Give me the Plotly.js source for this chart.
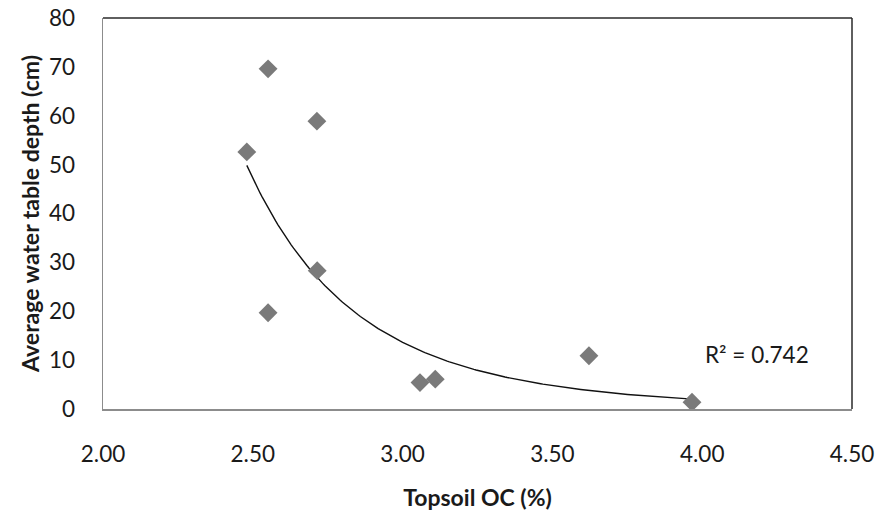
<!DOCTYPE html>
<html>
<head>
<meta charset="utf-8">
<script src="https://cdn.plot.ly/plotly-3.0.1.min.js"></script>
<style>html,body{margin:0;padding:0;background:#fff;}#chart{width:879px;height:522px;}</style>
</head>
<body>
<div id="chart"></div>
<script>
// Data
const topsoilOC = [2.48, 2.551, 2.714, 2.551, 2.715, 3.058, 3.109, 3.622, 3.966];
const waterTableDepth = [52.6, 69.6, 58.9, 19.7, 28.3, 5.4, 6.1, 10.9, 1.4];
const xTickVals = [2.0, 2.5, 3.0, 3.5, 4.0, 4.5];
const xTickText = ["2.00", "2.50", "3.00", "3.50", "4.00", "4.50"];
const yTickVals = [0, 10, 20, 30, 40, 50, 60, 70, 80];
const r2Label = "R² = 0.742";

// Power trendline (least squares in log-log space, as a spreadsheet would)
const lx = topsoilOC.map(Math.log), ly = waterTableDepth.map(Math.log);
const n = lx.length;
const mx = lx.reduce((a, b) => a + b, 0) / n, my = ly.reduce((a, b) => a + b, 0) / n;
let sxy = 0, sxx = 0;
for (let i = 0; i < n; i++) { sxy += (lx[i] - mx) * (ly[i] - my); sxx += (lx[i] - mx) ** 2; }
const b = sxy / sxx, lnA = my - b * mx;
const xMin = Math.min(...topsoilOC), xMax = Math.max(...topsoilOC);
const trendX = [], trendY = [];
for (let i = 0; i <= 200; i++) {
  const x = xMin + (xMax - xMin) * i / 200;
  trendX.push(x);
  trendY.push(Math.exp(lnA + b * Math.log(x)));
}

const font = "Lato, 'Open Sans', sans-serif";
const tickSize = 22.5;
const traces = [
  {x: trendX, y: trendY, mode: "lines", type: "scatter",
   line: {color: "#111111", width: 1.4}, hoverinfo: "skip", showlegend: false},
  {x: topsoilOC, y: waterTableDepth, mode: "markers", type: "scatter",
   marker: {symbol: "diamond", size: 14.5, color: "#7a7a7a"}, showlegend: false}
];

const layout = {
  width: 879, height: 522,
  margin: {l: 103, r: 27, t: 18, b: 113},
  paper_bgcolor: "#ffffff", plot_bgcolor: "#ffffff",
  font: {family: font, color: "#1a1a1a", size: tickSize},
  showlegend: false,
  xaxis: {
    range: [2.0, 4.5], tickvals: xTickVals, ticktext: xTickText,
    showgrid: false, zeroline: false, showline: true, linecolor: "#8c8c8c", linewidth: 1.5,
    ticks: "", ticklabelstandoff: 24,
    tickfont: {family: font, size: tickSize, color: "#1a1a1a"},
    title: {text: "<b>Topsoil OC (%)</b>", font: {family: font, size: 23, color: "#1a1a1a"}, standoff: 24}
  },
  yaxis: {
    range: [0, 80], tickvals: yTickVals,
    showgrid: false, zeroline: false, showline: true, linecolor: "#8c8c8c", linewidth: 1.5,
    ticks: "", ticklabelstandoff: 22,
    tickfont: {family: font, size: tickSize, color: "#1a1a1a"},
    title: {text: "<b>Average water table depth (cm)</b>", font: {family: font, size: 23, color: "#1a1a1a"}, standoff: 3}
  },
  shapes: [
    {type: "line", xref: "paper", yref: "paper", x0: 0, x1: 1, y0: 1, y1: 1, line: {color: "#2a2a2a", width: 1.5}},
    {type: "line", xref: "paper", yref: "paper", x0: 1, x1: 1, y0: 0, y1: 1, line: {color: "#2a2a2a", width: 1.5}}
  ],
  annotations: [
    {xref: "x", yref: "y", x: 4.183, y: 11.05, text: r2Label, showarrow: false, xanchor: "center", yanchor: "middle",
     font: {family: font, size: tickSize, color: "#1a1a1a"}}
  ]
};

Plotly.newPlot("chart", traces, layout, {displayModeBar: false, staticPlot: true});
</script>
</body>
</html>
